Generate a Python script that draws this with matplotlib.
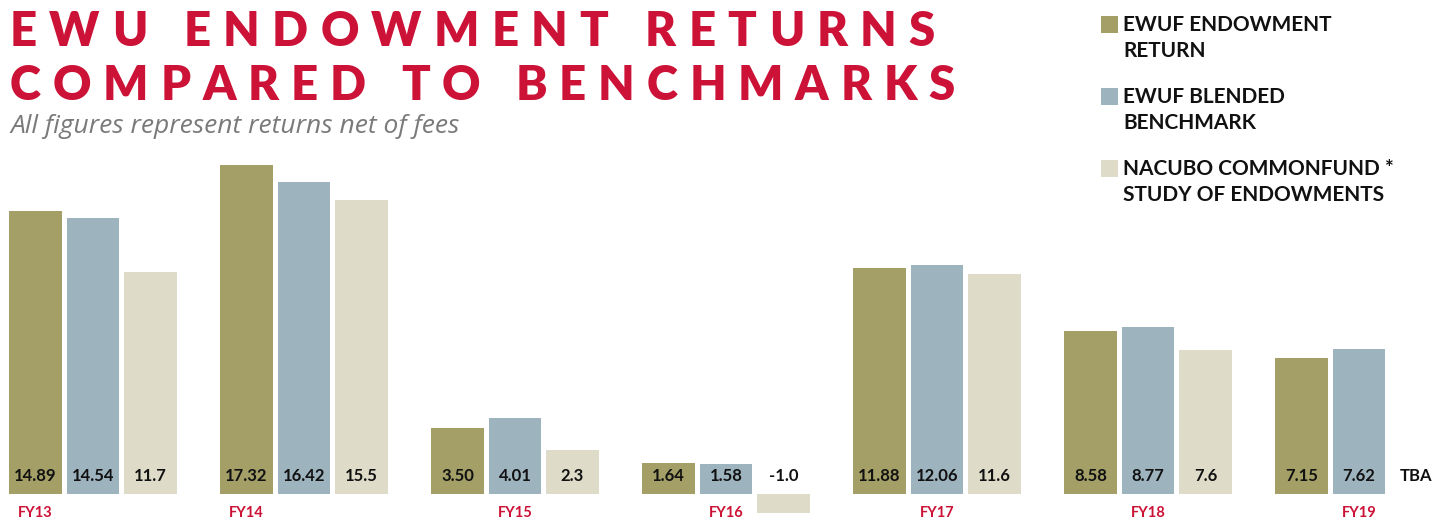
import matplotlib
matplotlib.use("Agg")
import matplotlib.pyplot as plt
from matplotlib.font_manager import FontProperties
from matplotlib.patches import Rectangle

# data
years = ["FY13", "FY14", "FY15", "FY16", "FY17", "FY18", "FY19"]
endowment_return = [14.89, 17.32, 3.50, 1.64, 11.88, 8.58, 7.15]
blended_benchmark = [14.54, 16.42, 4.01, 1.58, 12.06, 8.77, 7.62]
nacubo_study = [11.7, 15.5, 2.3, -1.0, 11.6, 7.6, None]
series_names = ["EWUF ENDOWMENT\nRETURN", "EWUF BLENDED\nBENCHMARK",
                "NACUBO COMMONFUND *\nSTUDY OF ENDOWMENTS"]
label_under = [0, 0, 1, 1, 1, 1, 1]  # which bar each year label sits under

colors = ["#A39F67", "#9DB3BE", "#DEDCC9"]
red = "#CC1236"
W, H = 1437, 521
FONT = "Lato"

fig = plt.figure(figsize=(W / 100, H / 100), dpi=100)
ax = fig.add_axes([0, 0, 1, 1])
ax.axis("off")

px_per_unit = 19.0
ax.set_xlim(-93 / 211, (W - 93) / 211)
ax.set_ylim(-(H - 494) / px_per_unit, 494 / px_per_unit)

offsets = [-0.272, 0.0, 0.272]
width = 0.248
decimals = [2, 2, 1]
all_series = [endowment_return, blended_benchmark, nacubo_study]

for k, vals in enumerate(all_series):
    for i, v in enumerate(vals):
        x = i + offsets[k]
        if v is None:
            ax.text(x, 0.95, "TBA", ha="center", va="center", fontsize=12,
                    fontweight="bold", family=FONT, color="#111111")
            continue
        ax.bar(x, v, width=width, color=colors[k], linewidth=0)
        ax.text(x, 0.95, f"{v:.{decimals[k]}f}", ha="center", va="center",
                fontsize=12, fontweight="bold", family=FONT, color="#111111")

for i, yr in enumerate(years):
    ax.text(i + offsets[label_under[i]], -1.0, yr, ha="center", va="center",
            fontsize=10.5, fontweight="bold", family=FONT, color=red)

# tracked title, letters spread to fill a target width
renderer = fig.canvas.get_renderer()


def tracked_text(s, x0, x1, baseline, size):
    fp = FontProperties(family=FONT, weight="heavy", size=size)
    widths = []
    for ch in s:
        if ch == " ":
            widths.append(size * 0.35)
        else:
            w, h, d = renderer.get_text_width_height_descent(ch, fp, ismath=False)
            widths.append(w)
    gap = (x1 - x0 - sum(widths)) / (len(s) - 1)
    x = x0
    for ch, w in zip(s, widths):
        if ch != " ":
            fig.text(x / W, 1 - baseline / H, ch, fontproperties=fp,
                     color=red, va="baseline", ha="left")
        x += w + gap


tracked_text("EWU ENDOWMENT RETURNS", 10, 935, 46, 34)
tracked_text("COMPARED TO BENCHMARKS", 10, 955, 100, 34)

fig.text(10 / W, 1 - 133 / H, "All figures represent returns net of fees",
         fontsize=19, style="italic", family="Open Sans", color="#7A7A7A",
         va="baseline", ha="left")

# legend
for k, name in enumerate(series_names):
    top = 16 + k * 72
    fig.patches.append(Rectangle((1101 / W, 1 - (top + 17) / H), 17 / W, 17 / H,
                                 transform=fig.transFigure, color=colors[k],
                                 linewidth=0))
    fig.text(1123 / W, 1 - (top + 41) / H, name, fontsize=15, fontweight="bold",
             family=FONT, color="#111111", va="baseline", ha="left",
             linespacing=1.35)

fig.savefig("out.png", dpi=100)
